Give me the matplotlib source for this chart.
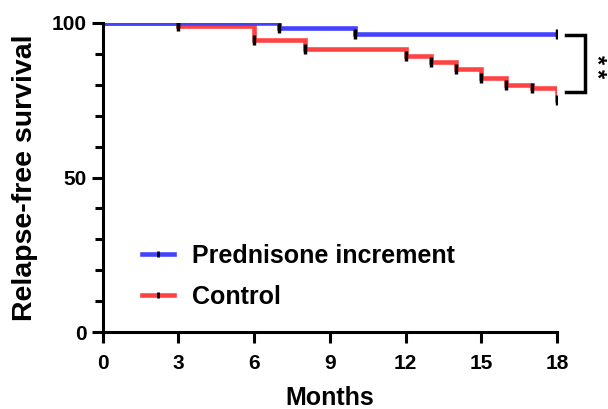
import numpy as np
import matplotlib
matplotlib.use('Agg')
from matplotlib import pyplot as plt
from matplotlib.lines import Line2D

plt.rcParams['font.family'] = ['Liberation Sans', 'DejaVu Sans']
plt.rcParams['font.weight'] = 'bold'

# Step curves (time in months, survival in %)
pred_t = [0, 7, 10, 18]
pred_s = [100, 98.3, 96.3, 96.3]
pred_cens_t = [3, 7, 10, 18]
pred_cens_s = [100, 98.3, 96.3, 96.3]

ctrl_t = [0, 3, 6, 8, 12, 13, 14, 15, 16, 17, 18]
ctrl_s = [100, 98.9, 94.5, 91.5, 89.4, 87.3, 85.1, 82.1, 79.9, 78.9, 75.2]
ctrl_cens_t = [3, 6, 8, 12, 13, 14, 15, 16, 17, 18]
ctrl_cens_s = [98.9, 94.5, 91.5, 89.4, 87.3, 85.1, 82.1, 79.9, 78.9, 75.2]

blue = '#4242FF'
red = '#FF4242'

fig = plt.figure(figsize=(6.08, 4.09), dpi=100)
ax = fig.add_axes([0.169, 0.188, 0.747, 0.756])

ax.step(ctrl_t, ctrl_s, where='post', color=red, lw=3.3, solid_joinstyle='miter')
ax.step(pred_t, pred_s, where='post', color=blue, lw=3.3, solid_joinstyle='miter')
ax.plot(ctrl_cens_t, ctrl_cens_s, '|', color='black', ms=7, mew=2.5, zorder=5)
ax.plot(pred_cens_t, pred_cens_s, '|', color='black', ms=7, mew=2.5, zorder=5)

ax.set_xlim(0, 18)
ax.set_ylim(0, 100)
ax.set_xticks(np.arange(0, 19, 3))
ax.set_yticks([0, 50, 100])
ax.set_yticks(np.arange(0, 101, 10), minor=True)
for s in ['top', 'right']:
    ax.spines[s].set_visible(False)
for s in ['left', 'bottom']:
    ax.spines[s].set_linewidth(2.2)
ax.tick_params(axis='both', which='major', width=2.2, length=8, labelsize=15)
ax.tick_params(axis='x', which='major', pad=8)
ax.tick_params(axis='y', which='major', pad=3.5)
ax.tick_params(axis='y', which='minor', width=2.2, length=6)
ax.set_xlabel('Months', fontsize=18, fontweight='bold', labelpad=9)
ax.set_ylabel('Relapse-free survival', fontsize=20.5, fontweight='bold', labelpad=10)

# significance bracket
ax.plot([18.35, 19.1, 19.1, 18.35], [96.1, 96.1, 77.8, 77.8], color='black', lw=2.5, clip_on=False,
        solid_joinstyle='miter')
for yy in [88.0, 83.7]:
    ax.text(19.58, yy, '*', rotation=-90, fontsize=17, fontweight='bold', ha='center', va='center')

h_pred = (Line2D([], [], color=blue, lw=3.3), Line2D([], [], color='black', marker='|', ls='', ms=5, mew=2))
h_ctrl = (Line2D([], [], color=red, lw=3.3), Line2D([], [], color='black', marker='|', ls='', ms=5, mew=2))
ax.legend([h_pred, h_ctrl], ['Prednisone increment', 'Control'], loc='center left',
          bbox_to_anchor=(0.086, 0.18), frameon=False, fontsize=18, handlelength=1.3,
          labelspacing=0.68, handletextpad=0.72, borderpad=0, borderaxespad=0)

fig.savefig('out.png', dpi=100)
